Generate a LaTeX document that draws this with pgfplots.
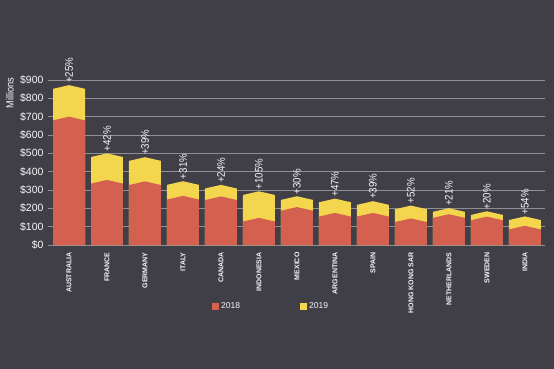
\documentclass[border=0pt]{standalone}
\usepackage{pgfplots}
\pgfplotsset{compat=1.18}
\usepackage{fontspec}
\setmainfont{Liberation Sans}
\newfontfamily\cond[FakeStretch=0.88]{Liberation Sans}
\definecolor{bg}{HTML}{403F47}
\definecolor{redbar}{HTML}{D4604F}
\definecolor{yelbar}{HTML}{F3D64E}
\definecolor{gridc}{HTML}{8E8E94}
\definecolor{txt}{HTML}{F7F7F7}
\begin{document}
\begin{tikzpicture}
\fill[bg] (-48pt,-124pt) rectangle (506pt,245pt);
\path[use as bounding box] (-48pt,-124pt) rectangle (506pt,245pt);
\begin{axis}[
  at={(0pt,0pt)}, anchor=south west,
  scale only axis, width=497pt, height=165pt,
  xmin=-0.553, xmax=12.53, ymin=0, ymax=900,
  clip=false,
  unbounded coords=jump,
  axis line style={draw=none},
  major tick length=0pt,
  ymajorgrids, grid style={gridc, line width=0.6pt},
  ytick={0,100,...,900},
  yticklabels={\$0,\$100,\$200,\$300,\$400,\$500,\$600,\$700,\$800,\$900},
  yticklabel style={font=\fontsize{10.5}{12}\selectfont, text=txt, xshift=-1pt},
  xtick={0,...,12},
  xticklabels={AUSTRALIA,FRANCE,GERMANY,ITALY,CANADA,INDONESIA,MEXICO,ARGENTINA,SPAIN,HONG KONG SAR,NETHERLANDS,SWEDEN,INDIA},
  xticklabel style={yshift=-4pt, rotate=90, anchor=east, font=\fontsize{7}{8}\selectfont\bfseries, text=txt},
  ylabel={Millions},
  ylabel style={font=\fontsize{10.5}{12}\cond, text=txt, at={(axis description cs:-0.062,0.92)}, anchor=south},
  legend columns=2,
  legend style={draw=none, fill=none, text=txt, font=\fontsize{8.5}{10}\selectfont,
    at={(axis description cs:0.449,-0.37)}, anchor=center,
    /tikz/every even column/.append style={column sep=58pt}},
  legend image code/.code={\fill (0pt,-3.5pt) rectangle (7pt,3.5pt);},
]
% 2019 totals (bar top; sides at value-10, peak at value+10)
\addplot[fill=yelbar, draw=none, forget plot] coordinates {
(-0.421,0) (-0.421,852) (0,872) (0.421,852) (0.421,0) (0,inf)
(0.579,0) (0.579,480) (1,500) (1.421,480) (1.421,0) (1,inf)
(1.579,0) (1.579,459) (2,479) (2.421,459) (2.421,0) (2,inf)
(2.579,0) (2.579,328) (3,348) (3.421,328) (3.421,0) (3,inf)
(3.579,0) (3.579,308) (4,328) (4.421,308) (4.421,0) (4,inf)
(4.579,0) (4.579,273) (5,293) (5.421,273) (5.421,0) (5,inf)
(5.579,0) (5.579,246) (6,266) (6.421,246) (6.421,0) (6,inf)
(6.579,0) (6.579,233) (7,253) (7.421,233) (7.421,0) (7,inf)
(7.579,0) (7.579,219) (8,239) (8.421,219) (8.421,0) (8,inf)
(8.579,0) (8.579,195) (9,215) (9.421,195) (9.421,0) (9,inf)
(9.579,0) (9.579,181) (10,201) (10.421,181) (10.421,0) (10,inf)
(10.579,0) (10.579,164) (11,184) (11.421,164) (11.421,0) (11,inf)
(11.579,0) (11.579,136) (12,156) (12.421,136) (12.421,0)
};
% 2018 values
\addplot[fill=redbar, draw=none] coordinates {
(-0.421,0) (-0.421,680) (0,700) (0.421,680) (0.421,0) (0,inf)
(0.579,0) (0.579,335) (1,355) (1.421,335) (1.421,0) (1,inf)
(1.579,0) (1.579,327) (2,347) (2.421,327) (2.421,0) (2,inf)
(2.579,0) (2.579,248) (3,268) (3.421,248) (3.421,0) (3,inf)
(3.579,0) (3.579,245) (4,265) (4.421,245) (4.421,0) (4,inf)
(4.579,0) (4.579,128) (5,148) (5.421,128) (5.421,0) (5,inf)
(5.579,0) (5.579,187) (6,207) (6.421,187) (6.421,0) (6,inf)
(6.579,0) (6.579,155) (7,175) (7.421,155) (7.421,0) (7,inf)
(7.579,0) (7.579,155) (8,175) (8.421,155) (8.421,0) (8,inf)
(8.579,0) (8.579,125) (9,145) (9.421,125) (9.421,0) (9,inf)
(9.579,0) (9.579,148) (10,168) (10.421,148) (10.421,0) (10,inf)
(10.579,0) (10.579,135) (11,155) (11.421,135) (11.421,0) (11,inf)
(11.579,0) (11.579,85) (12,105) (12.421,85) (12.421,0)
};
\addlegendentry{2018}
\addlegendimage{fill=yelbar, draw=none}
\addlegendentry{2019}
% growth labels
\addplot[draw=none, mark=none, forget plot,
  nodes near coords={+\pgfplotspointmeta\%},
  nodes near coords align={horizontal},
  point meta=explicit symbolic,
  every node near coord/.append style={rotate=90, anchor=west, text=txt, font=\fontsize{11}{12}\cond, inner sep=2pt}]
  coordinates {
(0,872) [25] (1,500) [42] (2,479) [39] (3,348) [31] (4,328) [24] (5,293) [105] (6,266) [30]
(7,253) [47] (8,239) [39] (9,215) [52] (10,201) [21] (11,184) [20] (12,156) [54]
};
\end{axis}
\end{tikzpicture}
\end{document}
